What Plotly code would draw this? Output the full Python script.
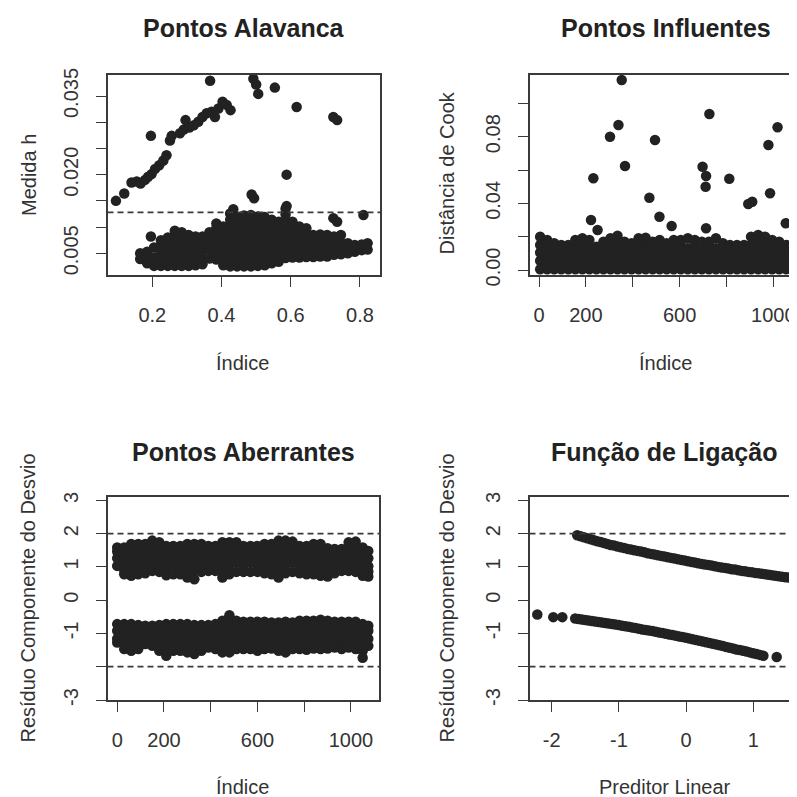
import plotly.graph_objects as go

# ---------------- data ----------------
# Panel 1: Pontos Alavanca (leverage h vs index)
alav_seq_x = [0.095, 0.119, 0.140, 0.155, 0.166, 0.179, 0.188, 0.198, 0.208, 0.220, 0.232,
              0.241, 0.251, 0.256, 0.196, 0.280, 0.291, 0.296, 0.307, 0.320, 0.333, 0.345,
              0.357, 0.371, 0.381, 0.391, 0.403, 0.415, 0.426,
              0.367, 0.492, 0.500, 0.506, 0.554, 0.617, 0.723, 0.734, 0.588, 0.487, 0.494,
              0.810, 0.723, 0.734, 0.196, 0.434, 0.588]
alav_seq_y = [0.0150, 0.0164, 0.0185, 0.0187, 0.0183, 0.0190, 0.0196, 0.0201, 0.0211, 0.0218, 0.0227,
              0.0237, 0.0265, 0.0274, 0.0274, 0.0279, 0.0286, 0.0304, 0.0290, 0.0294, 0.0301, 0.0310,
              0.0317, 0.0320, 0.0310, 0.0326, 0.0339, 0.0333, 0.0323,
              0.0379, 0.0383, 0.0372, 0.0354, 0.0366, 0.0329, 0.0310, 0.0304, 0.0200, 0.0162, 0.0155,
              0.0123, 0.0117, 0.0110, 0.0082, 0.0134, 0.0140]
alav_blob_x = [0.165, 0.185, 0.205, 0.225, 0.245, 0.265, 0.285, 0.305, 0.325, 0.345, 0.365, 0.385,
               0.405, 0.425, 0.445, 0.465, 0.485, 0.505, 0.525, 0.545, 0.565, 0.585, 0.605, 0.625,
               0.645, 0.665, 0.685, 0.705, 0.725, 0.745, 0.765, 0.785, 0.805, 0.822]
alav_blob_y = [
    [0.0039, 0.0050],
    [0.0031, 0.0042, 0.0053],
    [0.0026, 0.0042, 0.0061],
    [0.0026, 0.0036, 0.0052, 0.0066, 0.0075],
    [0.0026, 0.0042, 0.0058, 0.0072, 0.0080],
    [0.0026, 0.0036, 0.0052, 0.0068, 0.0082, 0.0093],
    [0.0026, 0.0042, 0.0058, 0.0074, 0.0090],
    [0.0026, 0.0036, 0.0052, 0.0068, 0.0085],
    [0.0027, 0.0042, 0.0058, 0.0072, 0.0082],
    [0.0029, 0.0040, 0.0054, 0.0068, 0.0082],
    [0.0040, 0.0058, 0.0074, 0.0090],
    [0.0038, 0.0052, 0.0068, 0.0084, 0.0098, 0.0107],
    [0.0027, 0.0042, 0.0058, 0.0074, 0.0090, 0.0101],
    [0.0025, 0.0036, 0.0052, 0.0068, 0.0084, 0.0100, 0.0114, 0.0126],
    [0.0025, 0.0042, 0.0058, 0.0074, 0.0090, 0.0106, 0.0119],
    [0.0025, 0.0036, 0.0052, 0.0068, 0.0084, 0.0100, 0.0114, 0.0122],
    [0.0025, 0.0042, 0.0058, 0.0074, 0.0090, 0.0106, 0.0123],
    [0.0026, 0.0036, 0.0052, 0.0068, 0.0084, 0.0100, 0.0114, 0.0120],
    [0.0027, 0.0042, 0.0058, 0.0074, 0.0090, 0.0106, 0.0119],
    [0.0031, 0.0044, 0.0058, 0.0072, 0.0086, 0.0100, 0.0114],
    [0.0034, 0.0050, 0.0066, 0.0082, 0.0097, 0.0110],
    [0.0041, 0.0054, 0.0068, 0.0082, 0.0096, 0.0110, 0.0124, 0.0135],
    [0.0042, 0.0058, 0.0074, 0.0090, 0.0104, 0.0110],
    [0.0042, 0.0052, 0.0066, 0.0080, 0.0094, 0.0101],
    [0.0043, 0.0059, 0.0075, 0.0088, 0.0098],
    [0.0043, 0.0052, 0.0066, 0.0080, 0.0085],
    [0.0044, 0.0059, 0.0073, 0.0086],
    [0.0044, 0.0052, 0.0066, 0.0080, 0.0085],
    [0.0047, 0.0061, 0.0073, 0.0082],
    [0.0048, 0.0056, 0.0070, 0.0085],
    [0.0050, 0.0060, 0.0069],
    [0.0053, 0.0066],
    [0.0056, 0.0067],
    [0.0057, 0.0069],
]
alav_cut = 0.0128
alav_xticks = [0.2, 0.4, 0.6, 0.8]
alav_xlabels = ["0.2", "0.4", "0.6", "0.8"]
alav_yticks = [0.005, 0.010, 0.015, 0.020, 0.025, 0.030, 0.035]
alav_ylabels = ["0.005", "", "", "0.020", "", "", "0.035"]

# Panel 2: Pontos Influentes (Cook's distance vs index)
cook_out_x = [353, 339, 303, 367, 232, 495, 471, 514, 566, 222, 250, 727, 698, 713, 711,
              812, 713, 893, 910, 979, 1018, 986, 1053]
cook_out_y = [0.114, 0.087, 0.080, 0.0624, 0.055, 0.078, 0.0434, 0.032, 0.0264, 0.030, 0.024,
              0.0936, 0.062, 0.0564, 0.050, 0.0548, 0.025, 0.0396, 0.041, 0.075, 0.0856, 0.046, 0.028]
cook_band_x = [5, 35, 65, 95, 125, 155, 185, 215, 245, 275, 305, 335, 365, 395, 425, 455, 485,
               515, 545, 575, 605, 635, 665, 695, 725, 755, 785, 815, 845, 875, 905, 935, 965,
               995, 1025, 1055, 1085]
cook_band_y = [
    [0.0005, 0.0055, 0.0105, 0.0150, 0.0200],
    [0.0005, 0.0030, 0.0080, 0.0130, 0.0180],
    [0.0005, 0.0055, 0.0105, 0.0160],
    [0.0005, 0.0030, 0.0080, 0.0130, 0.0150],
    [0.0005, 0.0055, 0.0105, 0.0150],
    [0.0005, 0.0030, 0.0080, 0.0130, 0.0180],
    [0.0005, 0.0055, 0.0105, 0.0150, 0.0190],
    [0.0005, 0.0030, 0.0080, 0.0130, 0.0180],
    [0.0005, 0.0055, 0.0105, 0.0140],
    [0.0005, 0.0030, 0.0080, 0.0130, 0.0170],
    [0.0005, 0.0055, 0.0105, 0.0150, 0.0190],
    [0.0005, 0.0030, 0.0080, 0.0130, 0.0175, 0.0206],
    [0.0005, 0.0055, 0.0105, 0.0150, 0.0170],
    [0.0005, 0.0030, 0.0080, 0.0130, 0.0160],
    [0.0005, 0.0055, 0.0105, 0.0150, 0.0190],
    [0.0005, 0.0030, 0.0080, 0.0130, 0.0175, 0.0194],
    [0.0005, 0.0055, 0.0105, 0.0150, 0.0170],
    [0.0005, 0.0030, 0.0080, 0.0130, 0.0180],
    [0.0005, 0.0055, 0.0105, 0.0160],
    [0.0005, 0.0030, 0.0080, 0.0130, 0.0180],
    [0.0005, 0.0055, 0.0105, 0.0150, 0.0180],
    [0.0005, 0.0030, 0.0080, 0.0130, 0.0190],
    [0.0005, 0.0055, 0.0105, 0.0150, 0.0180],
    [0.0005, 0.0030, 0.0080, 0.0130, 0.0170],
    [0.0005, 0.0055, 0.0105, 0.0150, 0.0170],
    [0.0005, 0.0030, 0.0080, 0.0130, 0.0190],
    [0.0005, 0.0055, 0.0105, 0.0160],
    [0.0005, 0.0030, 0.0080, 0.0130, 0.0150],
    [0.0005, 0.0055, 0.0105, 0.0150],
    [0.0005, 0.0030, 0.0080, 0.0130, 0.0150],
    [0.0005, 0.0055, 0.0105, 0.0150, 0.0200],
    [0.0005, 0.0030, 0.0080, 0.0130, 0.0175, 0.0210],
    [0.0005, 0.0055, 0.0105, 0.0150, 0.0200],
    [0.0005, 0.0030, 0.0080, 0.0130, 0.0180],
    [0.0005, 0.0055, 0.0105, 0.0150, 0.0170],
    [0.0005, 0.0030, 0.0080, 0.0130, 0.0150],
    [0.0005, 0.0055, 0.0105, 0.0130],
]
cook_yticks = [0.0, 0.02, 0.04, 0.06, 0.08, 0.10]
cook_ylabels = ["0.00", "", "0.04", "", "0.08", ""]
idx_ticks = [0, 200, 400, 600, 800, 1000]
idx_labels = ["0", "200", "", "600", "", "1000"]

# Panel 3: Pontos Aberrantes (deviance residuals vs index)
aber_idx = [0, 30, 60, 90, 120, 150, 180, 210, 240, 270, 300, 330, 360, 390, 420, 450, 480, 510,
            540, 570, 600, 630, 660, 690, 720, 750, 780, 810, 840, 870, 900, 930, 960, 990, 1020,
            1050, 1074]
aber_pos = [
    [1.03, 1.26, 1.46, 1.58],
    [0.78, 0.90, 1.14, 1.38, 1.58],
    [0.73, 1.02, 1.26, 1.50, 1.69],
    [0.78, 0.90, 1.14, 1.38, 1.62, 1.69],
    [0.81, 1.02, 1.26, 1.50, 1.69],
    [0.88, 1.14, 1.38, 1.62, 1.79],
    [0.85, 1.02, 1.26, 1.50, 1.74],
    [0.75, 0.90, 1.14, 1.38, 1.63],
    [0.78, 1.02, 1.26, 1.50, 1.63],
    [0.78, 0.90, 1.14, 1.38, 1.63],
    [0.68, 0.84, 1.02, 1.26, 1.50, 1.69],
    [0.63, 0.90, 1.14, 1.38, 1.62, 1.69],
    [0.85, 1.02, 1.26, 1.50, 1.69],
    [0.88, 1.14, 1.38, 1.63],
    [0.88, 1.02, 1.26, 1.50, 1.63],
    [0.68, 0.90, 1.14, 1.38, 1.62, 1.74],
    [0.78, 1.02, 1.26, 1.50, 1.74],
    [0.85, 1.14, 1.38, 1.62, 1.74],
    [0.85, 1.02, 1.26, 1.50, 1.63],
    [0.85, 1.14, 1.38, 1.63],
    [0.85, 1.02, 1.26, 1.50, 1.63],
    [0.81, 0.90, 1.14, 1.38, 1.62, 1.69],
    [0.78, 1.02, 1.26, 1.50, 1.69],
    [0.68, 0.90, 1.14, 1.38, 1.62, 1.79],
    [0.81, 1.02, 1.26, 1.50, 1.66, 1.79],
    [0.85, 1.14, 1.38, 1.62, 1.76],
    [0.81, 1.02, 1.26, 1.50, 1.63],
    [0.78, 0.90, 1.14, 1.38, 1.63],
    [0.78, 1.02, 1.26, 1.50, 1.69],
    [0.73, 0.90, 1.14, 1.38, 1.62, 1.69],
    [0.71, 0.86, 1.02, 1.26, 1.50, 1.56],
    [0.81, 0.96, 1.14, 1.38, 1.54],
    [0.88, 1.02, 1.26, 1.50, 1.54],
    [0.88, 1.14, 1.38, 1.62, 1.74],
    [0.85, 1.02, 1.26, 1.50, 1.76],
    [0.73, 0.90, 1.14, 1.38, 1.58],
    [0.71, 0.86, 1.02, 1.26, 1.48],
]
aber_neg = [
    [-0.72, -0.92, -1.16, -1.27],
    [-0.72, -0.80, -1.04, -1.28, -1.47],
    [-0.72, -0.92, -1.16, -1.40, -1.52],
    [-0.75, -0.80, -1.04, -1.28, -1.47],
    [-0.77, -0.92, -1.16, -1.32],
    [-0.77, -1.04, -1.28, -1.37],
    [-0.75, -0.92, -1.16, -1.40, -1.52],
    [-0.72, -0.80, -1.04, -1.28, -1.52, -1.67],
    [-0.72, -0.92, -1.16, -1.40, -1.52],
    [-0.72, -0.80, -1.04, -1.28, -1.52],
    [-0.72, -0.92, -1.16, -1.40, -1.57],
    [-0.75, -0.80, -1.04, -1.28, -1.52, -1.62],
    [-0.75, -0.92, -1.16, -1.40, -1.52],
    [-0.75, -0.80, -1.04, -1.28, -1.42],
    [-0.72, -0.92, -1.16, -1.40, -1.47],
    [-0.62, -0.80, -1.04, -1.28, -1.52, -1.57],
    [-0.45, -0.62, -0.77, -0.92, -1.16, -1.40, -1.57],
    [-0.62, -0.80, -1.04, -1.28, -1.47],
    [-0.65, -0.92, -1.16, -1.40, -1.47],
    [-0.65, -0.80, -1.04, -1.28, -1.47],
    [-0.65, -0.92, -1.16, -1.40, -1.52],
    [-0.65, -0.80, -1.04, -1.28, -1.47],
    [-0.67, -0.92, -1.16, -1.40, -1.45],
    [-0.67, -0.80, -1.04, -1.28, -1.52],
    [-0.65, -0.92, -1.16, -1.40, -1.57],
    [-0.67, -0.80, -1.04, -1.28, -1.47],
    [-0.62, -0.77, -0.92, -1.16, -1.40, -1.47],
    [-0.62, -0.80, -1.04, -1.28, -1.49],
    [-0.62, -0.77, -0.92, -1.16, -1.40, -1.45],
    [-0.59, -0.80, -1.04, -1.28, -1.47],
    [-0.62, -0.77, -0.92, -1.16, -1.40, -1.45],
    [-0.65, -0.80, -1.04, -1.28, -1.42],
    [-0.65, -0.92, -1.16, -1.40, -1.47],
    [-0.65, -0.80, -1.04, -1.28, -1.42],
    [-0.65, -0.92, -1.16, -1.40, -1.47],
    [-0.72, -0.80, -1.04, -1.28, -1.52, -1.73],
    [-0.77, -0.92, -1.16, -1.37],
]
resid_cut = 2.0
resid_ticks = [-3, -2, -1, 0, 1, 2, 3]
resid_labels = ["-3", "", "-1", "0", "1", "2", "3"]

# Panel 4: Funcao de Ligacao (deviance residuals vs linear predictor)
lig_up_x = [-1.62, -1.57, -1.52, -1.47, -1.42, -1.37, -1.32, -1.27, -1.22, -1.17, -1.12, -1.07,
            -1.02, -0.97, -0.92, -0.87, -0.82, -0.77, -0.72, -0.67, -0.62, -0.57, -0.52, -0.47,
            -0.42, -0.37, -0.32, -0.27, -0.22, -0.17, -0.12, -0.07, -0.02, 0.03, 0.08, 0.13,
            0.18, 0.23, 0.28, 0.33, 0.38, 0.43, 0.48, 0.53, 0.58, 0.63, 0.68, 0.73, 0.78, 0.83,
            0.88, 0.93, 0.98, 1.03, 1.08, 1.13, 1.18, 1.23, 1.28, 1.33, 1.38, 1.43, 1.48, 1.53,
            1.58, 1.63, 1.68]
lig_up_y = [1.95, 1.92, 1.89, 1.86, 1.83, 1.80, 1.77, 1.75, 1.72, 1.69, 1.66, 1.64,
            1.61, 1.59, 1.57, 1.54, 1.52, 1.50, 1.48, 1.46, 1.44, 1.41, 1.39, 1.37,
            1.35, 1.33, 1.31, 1.29, 1.27, 1.25, 1.23, 1.21, 1.19, 1.17, 1.15, 1.13,
            1.11, 1.09, 1.07, 1.06, 1.04, 1.02, 1.00, 0.98, 0.97, 0.95, 0.93, 0.92, 0.90, 0.88,
            0.87, 0.85, 0.84, 0.82, 0.81, 0.79, 0.78, 0.76, 0.75, 0.73, 0.72, 0.70, 0.69, 0.68,
            0.66, 0.65, 0.64]
lig_low_x = [-2.214, -1.976, -1.842, -1.65, -1.60, -1.55, -1.50, -1.45, -1.40, -1.35, -1.30,
             -1.25, -1.20, -1.15, -1.10, -1.05, -1.00, -0.95, -0.90, -0.85, -0.80, -0.75, -0.70,
             -0.65, -0.60, -0.55, -0.50, -0.45, -0.40, -0.35, -0.30, -0.25, -0.20, -0.15, -0.10,
             -0.05, 0.00, 0.05, 0.10, 0.15, 0.20, 0.25, 0.30, 0.35, 0.40, 0.45, 0.50, 0.55,
             0.60, 0.65, 0.70, 0.75, 0.80, 0.85, 0.90, 0.95, 1.00, 1.05, 1.10, 1.15, 1.348]
lig_low_y = [-0.43, -0.51, -0.51, -0.550, -0.565, -0.580, -0.595, -0.610, -0.625, -0.640, -0.655,
             -0.670, -0.685, -0.700, -0.715, -0.730, -0.750, -0.770, -0.785, -0.800, -0.820, -0.840,
             -0.860, -0.880, -0.895, -0.910, -0.930, -0.950, -0.970, -0.990, -1.010, -1.030,
             -1.050, -1.070, -1.090, -1.110, -1.130, -1.150, -1.175, -1.200, -1.220, -1.240,
             -1.265, -1.290, -1.310, -1.330, -1.355, -1.380, -1.405, -1.430, -1.455, -1.480,
             -1.500, -1.520, -1.545, -1.570, -1.595, -1.620, -1.645, -1.670, -1.71]
lig_xticks = [-2, -1, 0, 1]
lig_xlabels = ["-2", "-1", "0", "1"]

titles = ["Pontos Alavanca", "Pontos Influentes", "Pontos Aberrantes", "Função de Ligação"]
xtitles = ["Índice", "Índice", "Índice", "Preditor Linear"]
ytitles = ["Medida h", "Distância de Cook", "Resíduo Componente do Desvio",
           "Resíduo Componente do Desvio"]

# ---------------- styling / layout ----------------
# the page body keeps its default 8px margin, so the figure is 789px and sits at (8, 8)
OFF = 8
FW = 797 - OFF
FONT = "Liberation Sans, Arial, Helvetica, sans-serif"
PT = "#222222"
LC = "#3a3a3a"
TC = "#333333"
MS = 10.5


def fx(p):
    return (p - OFF) / FW


def fy(p):
    return 1 - (p - OFF) / FW


def flat(xs, cols):
    return [x for x, c in zip(xs, cols) for _ in c], [v for c in cols for v in c]


fig = go.Figure()


def pts(x, y, k):
    suffix = "" if k == 1 else str(k)
    fig.add_trace(go.Scatter(x=x, y=y, mode="markers", xaxis="x" + suffix, yaxis="y" + suffix,
                             marker=dict(size=MS, color=PT, line=dict(width=0)),
                             showlegend=False, hoverinfo="skip"))


bx, by = flat(alav_blob_x, alav_blob_y)
pts(bx, by, 1)
pts(alav_seq_x, alav_seq_y, 1)

cx, cy = flat(cook_band_x, cook_band_y)
pts(cx, cy, 2)
pts(cook_out_x, cook_out_y, 2)

ax_, ay_ = flat(aber_idx, aber_pos)
pts(ax_, ay_, 3)
ax_, ay_ = flat(aber_idx, aber_neg)
pts(ax_, ay_, 3)

pts(lig_up_x, lig_up_y, 4)
pts(lig_low_x, lig_low_y, 4)


def xaxis(domain, rng, tv, tt, anchor):
    return dict(domain=domain, range=rng, anchor=anchor, tickmode="array", tickvals=tv,
                ticktext=tt, ticks="outside", ticklen=10, tickwidth=1.4, tickcolor=LC,
                showline=True, linecolor=LC, linewidth=1.8, mirror=True, showgrid=False,
                zeroline=False, tickfont=dict(family=FONT, size=20, color=TC),
                ticklabelstandoff=11, automargin=False, fixedrange=True, tickangle=0)


def yaxis(domain, rng, tv, tt, anchor, mirror):
    return dict(domain=domain, range=rng, anchor=anchor, tickmode="array", tickvals=tv,
                ticktext=tt, ticks="outside", ticklen=10, tickwidth=1.4, tickcolor=LC,
                showline=True, linecolor=LC, linewidth=1.8, mirror=mirror, showgrid=False,
                zeroline=False, tickfont=dict(family=FONT, size=20, color=TC),
                ticklabelstandoff=10, automargin=False, fixedrange=True, tickangle=-90)


top_dom = [fy(275), fy(74.5)]
bot_dom = [fy(700), fy(497)]

fig.update_layout(
    template="none",
    width=FW, height=FW,
    margin=dict(l=0, r=0, t=0, b=0),
    paper_bgcolor="white", plot_bgcolor="white",
    hovermode=False,
    xaxis=xaxis([fx(107.5), fx(380)], [0.0706, 0.8578], alav_xticks, alav_xlabels, "y"),
    yaxis=yaxis(top_dom, [0.00086, 0.0391], alav_yticks, alav_ylabels, "x", True),
    xaxis2=xaxis([fx(530), 1.0], [-38.4, 1101], idx_ticks, idx_labels, "y2"),
    yaxis2=yaxis(top_dom, [-0.003, 0.1173], cook_yticks, cook_ylabels, "x2", False),
    xaxis3=xaxis([fx(107.5), fx(379)], [-41.5, 1119.8], idx_ticks, idx_labels, "y3"),
    yaxis3=yaxis(bot_dom, [-3.0, 3.1], resid_ticks, resid_labels, "x3", True),
    xaxis4=xaxis([fx(529.5), 1.0], [-2.330, 1.650], lig_xticks, lig_xlabels, "y4"),
    yaxis4=yaxis(bot_dom, [-3.0, 3.1], resid_ticks, resid_labels, "x4", False),
)

dash = dict(color="#3a3a3a", width=1.8, dash="6px,4px")
fig.add_shape(type="line", xref="x domain", yref="y", x0=0, x1=1, y0=alav_cut, y1=alav_cut,
              line=dash)
for k in (3, 4):
    for v in (resid_cut, -resid_cut):
        fig.add_shape(type="line", xref=f"x{k} domain", yref=f"y{k}", x0=0, x1=1, y0=v, y1=v,
                      line=dash)

# titles and axis titles (page-pixel centres)
title_pos = [(244, 28), (666, 28), (243.5, 452), (664, 452)]
xt_pos = [(242.5, 363), (665, 363), (242.5, 787), (665, 787)]
yt_pos = [(29, 175), (446.5, 173), (27, 598.5), (446, 598.5)]
for i in range(4):
    fig.add_annotation(text=titles[i], xref="paper", yref="paper", x=fx(title_pos[i][0]),
                       y=fy(title_pos[i][1]), xanchor="center", yanchor="middle",
                       showarrow=False,
                       font=dict(family=FONT, size=25, color="#222222", weight="bold"))
    fig.add_annotation(text=xtitles[i], xref="paper", yref="paper", x=fx(xt_pos[i][0]),
                       y=fy(xt_pos[i][1]), xanchor="center", yanchor="middle",
                       showarrow=False, font=dict(family=FONT, size=20, color=TC))
    fig.add_annotation(text=ytitles[i], xref="paper", yref="paper", x=fx(yt_pos[i][0]),
                       y=fy(yt_pos[i][1]), xanchor="center", yanchor="middle",
                       showarrow=False, textangle=-90, font=dict(family=FONT, size=20, color=TC))

fig.write_html("out.html")
